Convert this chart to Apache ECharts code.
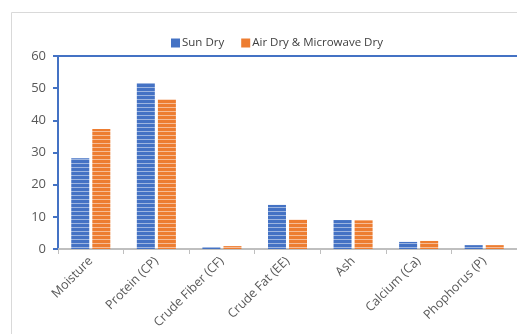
<!DOCTYPE html>
<html>
<head>
<meta charset="utf-8">
<script src="https://cdn.jsdelivr.net/npm/echarts@6/dist/echarts.min.js"></script>
<style>
  html, body { margin: 0; padding: 0; background: #fff; }
  #chart { width: 517px; height: 334px; }
</style>
</head>
<body>
<div id="chart"></div>
<script>
// Proximate composition by drying method
const categories = ['Moisture', 'Protein (CP)', 'Crude Fiber (CF)', 'Crude Fat (EE)', 'Ash', 'Calcium (Ca)', 'Phophorus (P)'];
const sunDry = [28.2, 51.6, 0.6, 13.7, 9.0, 2.2, 1.2];
const airMicrowaveDry = [37.3, 46.5, 0.9, 9.1, 8.9, 2.5, 1.2];
const yTicks = [0, 10, 20, 30, 40, 50, 60];

// Horizontal-stripe fill used for the bars
function stripes(dark, light) {
  const c = document.createElement('canvas');
  c.width = 4; c.height = 4;
  const g = c.getContext('2d');
  g.fillStyle = dark; g.fillRect(0, 0, 4, 4);
  g.fillStyle = light; g.fillRect(0, 3, 4, 1);
  return { image: c, repeat: 'repeat' };
}

const blueFill = stripes('#4472C4', '#9DB5E0');
const orangeFill = stripes('#ED7D31', '#F6BC96');

const chart = echarts.init(document.getElementById('chart'), null, { renderer: 'canvas' });
chart.setOption({
  animation: false,
  textStyle: { fontFamily: 'Open Sans' },
  graphic: [{
    type: 'rect',
    shape: { x: 11.5, y: 12.5, width: 600, height: 400 },
    style: { fill: 'none', stroke: '#D9D9D9', lineWidth: 1 },
    silent: true
  }],
  legend: {
    top: 32,
    left: 166,
    itemWidth: 9,
    itemHeight: 9,
    itemGap: 17,
    icon: 'rect',
    textStyle: { fontSize: 11.5, color: '#404040', fontFamily: 'Open Sans', padding: [0, 0, 0, -3] },
    data: [
      { name: 'Sun Dry', itemStyle: { color: '#4472C4' } },
      { name: 'Air Dry & Microwave Dry', itemStyle: { color: '#ED7D31' } }
    ]
  },
  grid: { left: 58, top: 56, width: 462, height: 193, containLabel: false },
  xAxis: [{
    type: 'category',
    data: categories,
    axisLine: { lineStyle: { color: '#BFBFBF', width: 2 } },
    axisTick: { show: true, length: 5, lineStyle: { color: '#BFBFBF', width: 1 } },
    axisLabel: { rotate: 45, color: '#595959', fontSize: 12.5, margin: 10, interval: 0 }
  }, {
    type: 'category',
    position: 'top',
    data: categories,
    axisLine: { lineStyle: { color: '#4472C4', width: 2 } },
    axisTick: { show: false },
    axisLabel: { show: false }
  }],
  yAxis: {
    type: 'value',
    min: yTicks[0],
    max: yTicks[yTicks.length - 1],
    interval: 10,
    axisLine: { show: true, lineStyle: { color: '#4472C4', width: 2 } },
    axisTick: { show: true, length: 5, lineStyle: { color: '#4472C4', width: 2 } },
    axisLabel: { color: '#595959', fontSize: 13, margin: 12 },
    splitLine: { show: false }
  },
  series: [{
    name: 'Sun Dry',
    type: 'bar',
    data: sunDry,
    barWidth: 18,
    barGap: '17%',
    itemStyle: { color: blueFill }
  }, {
    name: 'Air Dry & Microwave Dry',
    type: 'bar',
    data: airMicrowaveDry,
    barWidth: 18,
    itemStyle: { color: orangeFill }
  }]
});
</script>
</body>
</html>
